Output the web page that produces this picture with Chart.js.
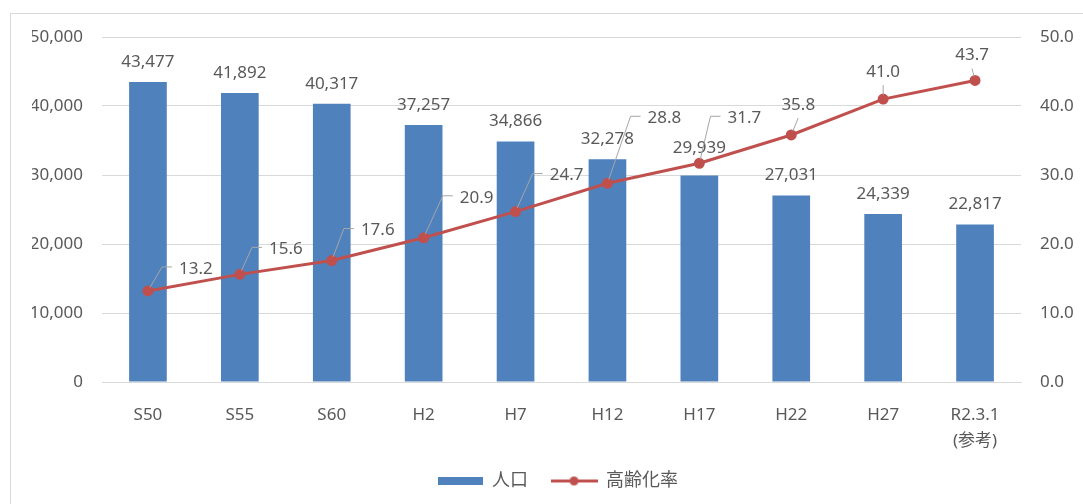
<!DOCTYPE html>
<html>
<head>
<meta charset="utf-8">
<script src="https://cdn.jsdelivr.net/npm/chart.js@4"></script>
<style>
  body { margin: 0; background: #fff; }
  #wrap { width: 1083px; height: 504px; position: relative; }
</style>
</head>
<body>
<div id="wrap"><canvas id="chart"></canvas></div>
<script>
// Data
const categories = ['S50', 'S55', 'S60', 'H2', 'H7', 'H12', 'H17', 'H22', 'H27', ['R2.3.1', '(参考)']];
const population = [43477, 41892, 40317, 37257, 34866, 32278, 29939, 27031, 24339, 22817];
const agingRate = [13.2, 15.6, 17.6, 20.9, 24.7, 28.8, 31.7, 35.8, 41.0, 43.7];
const leftTicks = [0, 10000, 20000, 30000, 40000, 50000];
const rightTicks = [0, 10, 20, 30, 40, 50];

const TEXT = '#595959';
const GRID = '#d9d9d9';
const BLUE = '#4f81bd';
const RED = '#c0504d';
const FONT = "'Noto Sans', 'Noto Sans CJK JP', sans-serif";

// label placement for the line values (offset of text centre from the point)
const lineLabelOffsets = [
    [48, -22], [46, -25], [46, -30], [53, -40], [51, -36],
    [57, -65], [45, -45], [7, -30], [0, -27], [-3, -25]
];
// how far above the bar top each value label sits
const barLabelLift = [20, 20, 20, 20, 20, 20, 27, 20, 20, 20];

// legend swatches
function barSwatch() {
    const c = document.createElement('canvas');
    c.width = 45; c.height = 8;
    const g = c.getContext('2d');
    g.fillStyle = BLUE;
    g.fillRect(0, 0, 45, 8);
    return c;
}
function lineSwatch() {
    const c = document.createElement('canvas');
    c.width = 47; c.height = 11;
    const g = c.getContext('2d');
    g.strokeStyle = RED;
    g.lineWidth = 3;
    g.beginPath(); g.moveTo(0, 5.5); g.lineTo(47, 5.5); g.stroke();
    g.fillStyle = RED;
    g.beginPath(); g.arc(23.5, 5.5, 4.5, 0, Math.PI * 2); g.fill();
    return c;
}

// Plugin: white background and the outer frame
const framePlugin = {
    id: 'frame',
    beforeDraw(chart) {
        const ctx = chart.ctx;
        ctx.save();
        ctx.fillStyle = '#fff';
        ctx.fillRect(0, 0, chart.width, chart.height);
        ctx.strokeStyle = GRID;
        ctx.lineWidth = 1;
        ctx.strokeRect(10.5, 13.5, 1200, 700);
        ctx.restore();
    }
};

// Plugin: value labels for bars and line (with leader lines)
const valueLabels = {
    id: 'valueLabels',
    afterDatasetsDraw(chart) {
        const ctx = chart.ctx;
        ctx.save();
        ctx.font = '17px ' + FONT;
        ctx.fillStyle = TEXT;
        ctx.textAlign = 'center';
        ctx.textBaseline = 'middle';

        chart.getDatasetMeta(0).data.forEach((bar, i) => {
            ctx.fillText(population[i].toLocaleString('en-US'), bar.x, bar.y - barLabelLift[i]);
        });

        ctx.strokeStyle = '#a6a6a6';
        ctx.lineWidth = 1;
        chart.getDatasetMeta(1).data.forEach((pt, i) => {
            const text = agingRate[i].toFixed(1);
            const tx = pt.x + lineLabelOffsets[i][0];
            const ty = pt.y + lineLabelOffsets[i][1];
            const w = ctx.measureText(text).width;
            ctx.beginPath();
            if (lineLabelOffsets[i][0] > 20) {
                const left = tx - w / 2;
                const cx = left - 17, cy = ty - 2;
                const dx = cx - pt.x, dy = cy - pt.y;
                const len = Math.hypot(dx, dy);
                ctx.moveTo(pt.x + dx / len * 4, pt.y + dy / len * 4);
                ctx.lineTo(cx, cy);
                ctx.lineTo(left - 7, cy);
            } else {
                const ex = tx, ey = ty + 13;
                const dx = ex - pt.x, dy = ey - pt.y;
                const len = Math.hypot(dx, dy);
                ctx.moveTo(pt.x + dx / len * 4, pt.y + dy / len * 4);
                ctx.lineTo(ex, ey);
            }
            ctx.stroke();
            ctx.fillText(text, tx, ty);
        });
        ctx.restore();
    }
};

const ctx = document.getElementById('chart').getContext('2d');
new Chart(ctx, {
    data: {
        labels: categories,
        datasets: [
            {
                type: 'bar',
                label: '人口',
                data: population,
                backgroundColor: BLUE,
                yAxisID: 'y',
                order: 1,
                barPercentage: 0.41,
                categoryPercentage: 1
            },
            {
                type: 'line',
                label: '高齢化率',
                data: agingRate,
                borderColor: RED,
                backgroundColor: RED,
                borderWidth: 3,
                pointRadius: 4,
                pointBackgroundColor: RED,
                pointBorderColor: RED,
                yAxisID: 'y1',
                order: 0,
                tension: 0
            }
        ]
    },
    options: {
        responsive: true,
        maintainAspectRatio: false,
        animation: false,
        layout: { padding: { left: 32, right: 0, top: 37, bottom: 4 } },
        plugins: {
            tooltip: { enabled: false },
            legend: {
                position: 'bottom',
                labels: {
                    usePointStyle: true,
                    pointStyleWidth: 46,
                    padding: 23,
                    font: { size: 18, family: FONT },
                    color: TEXT,
                    generateLabels() {
                        return [
                            { text: '人口', pointStyle: barSwatch(), datasetIndex: 0, fontColor: TEXT, lineWidth: 0 },
                            { text: '高齢化率', pointStyle: lineSwatch(), datasetIndex: 1, fontColor: TEXT, lineWidth: 0 }
                        ];
                    }
                }
            }
        },
        scales: {
            x: {
                grid: { display: false },
                border: { color: GRID },
                ticks: {
                    color: TEXT,
                    font: { size: 17, family: FONT, lineHeight: 1.55 },
                    padding: 12,
                    maxRotation: 0,
                    autoSkip: false
                },
                afterFit(scale) { scale.height = 67; }
            },
            y: {
                position: 'left',
                min: 0,
                max: 50000,
                afterBuildTicks(scale) { scale.ticks = leftTicks.map(v => ({ value: v })); },
                grid: { color: GRID, drawTicks: false },
                border: { display: false },
                ticks: {
                    color: TEXT,
                    font: { size: 17, family: FONT },
                    padding: 19,
                    callback: v => v.toLocaleString('en-US')
                },
                afterFit(scale) { scale.width = 70; }
            },
            y1: {
                position: 'right',
                min: 0,
                max: 50,
                afterBuildTicks(scale) { scale.ticks = rightTicks.map(v => ({ value: v })); },
                grid: { display: false, drawTicks: false },
                border: { display: false },
                ticks: {
                    color: TEXT,
                    font: { size: 17, family: FONT },
                    padding: 19,
                    callback: v => v.toFixed(1)
                },
                afterFit(scale) { scale.width = 62; }
            }
        }
    },
    plugins: [framePlugin, valueLabels]
});
</script>
</body>
</html>
